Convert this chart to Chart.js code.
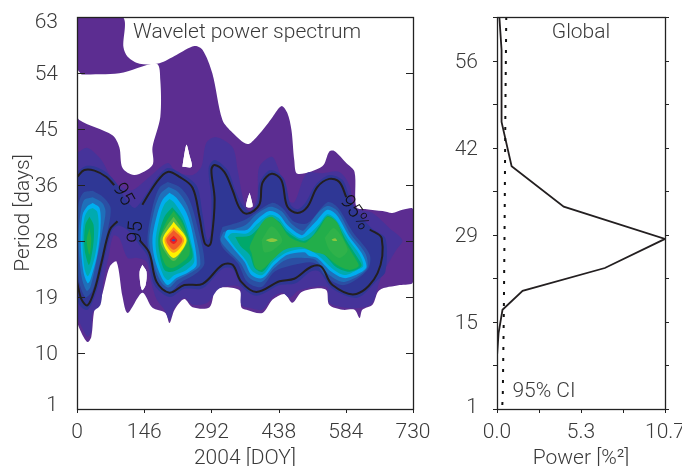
<!DOCTYPE html>
<html>
<head>
<meta charset="utf-8">
<title>Wavelet power spectrum</title>
<script src="https://cdn.jsdelivr.net/npm/chart.js@4"></script>
<style>
  body { margin: 0; background: #fff; }
  canvas { position: absolute; top: 0; }
  #wavelet { left: 0; }
  #global { left: 445px; }
</style>
</head>
<body>
<canvas id="wavelet" width="445" height="466"></canvas>
<canvas id="global" width="237" height="466"></canvas>
<script>
// all shapes are [day, period]
var dayTicks = [0, 146, 292, 438, 584, 730];
var periodTicks = [1, 9.86, 18.71, 27.57, 36.43, 45.29, 54.14, 63];
var globalPeriodTicks = [1, 7.89, 14.78, 21.67, 28.56, 35.44, 42.33, 49.22, 56.11, 63];
var globalPeriodLabels = ['1', '', '15', '', '29', '', '42', '', '56', ''];
var powerTicks = [0, 2.675, 5.35, 8.025, 10.7];
var powerLabels = ['0.0', '', '5.3', '', '10.7'];

var outerPurple = [[0,63],[99,63],[101,58.2],[110,56.7],[136,55.6],[179,55.7],[216,57],[255,58.4],[273,57.8],[294,54.1],[316,46.7],[338,44.7],[370,42.9],[390,44],[412,45.9],[425,47.2],[444,48.9],[457,47.8],[466,45.1],[472,40.4],[479,38.2],[533,39.4],[548,41.7],[559,41.8],[585,39.9],[603,38.5],[607,32.9],[629,32.6],[664,32.3],[685,32],[707,32.5],[727,32.8],[730,32.6],[730,21.1],[701,20.6],[657,19.8],[642,17.5],[620,16.7],[614,15.4],[603,16.7],[577,16.7],[548,17.5],[542,19.8],[522,20.1],[488,19.5],[468,17.8],[451,19.2],[425,18.3],[403,16.2],[368,16.7],[357,17.1],[353,19.8],[303,20],[288,17.1],[251,17.1],[233,18.4],[212,16.7],[201,14.6],[192,16.2],[164,17],[142,19.4],[110,16.2],[99,18.7],[86,24.3],[71,23.5],[53,18.7],[38,16.7],[31,12.4],[23,11.6],[10,13],[0,15.1]];
var holeBig = [[10,53.9],[92,54.1],[173,55.6],[181,53],[181,47.2],[164,42.4],[164,39.6],[125,38],[99,39.1],[92,42.4],[77,44.3],[5,46.7],[0,48.3],[0,54.6]];
var holeTop = [[229,39.3],[249,39.3],[244,41.2],[238,42.8],[233,41.2]];
var holeLow = [[142,23.8],[151,22.7],[149,20.6],[142,19.8],[138,20.6],[136,22.7]];
var holeMid = [[375,35.2],[379,34.1],[381,33],[368,33],[370,34.1]];

var indigoBand = [[0,41.5],[23,42.3],[53,40.4],[81,36.9],[118,35.6],[157,37.7],[197,39.9],[216,38.5],[251,38],[270,39.3],[281,43.1],[303,44],[338,42.4],[349,38.8],[359,34.9],[370,32.5],[381,32.5],[392,34.9],[396,39.3],[423,40.9],[436,39.3],[457,34.1],[472,33.7],[499,38.3],[533,38.3],[570,38.5],[592,36.4],[603,32.9],[642,32],[679,29.6],[707,27.7],[694,26.2],[672,23.5],[657,21.1],[642,17.8],[618,17],[577,17.1],[548,17.8],[542,20.3],[483,19.8],[462,18.6],[446,19.4],[425,18.7],[403,16.7],[375,17],[357,17.5],[353,20.3],[310,20.1],[283,17.8],[251,17.5],[233,18.6],[212,17],[201,15.1],[190,16.7],[173,18.3],[160,21.4],[151,24.3],[131,24.9],[110,24.9],[92,28],[79,28.4],[68,24.9],[57,21.1],[51,17.5],[34,16.2],[31,13.2],[23,12.4],[10,14],[0,16.2]];
var navyBand = [[0,38.5],[18,39.4],[40,39.3],[66,38.3],[86,36.7],[103,34.5],[125,32.8],[142,34.1],[173,37.5],[197,39.1],[225,38.3],[260,36.3],[273,31.7],[283,27.7],[290,28.5],[292,34.1],[286,39.1],[299,40.4],[327,38.8],[344,35.6],[359,33.3],[375,32.3],[392,33.6],[396,36.7],[420,38.8],[449,37.5],[464,33.3],[479,32.6],[496,33.6],[518,36.4],[548,38],[577,37.2],[592,34.5],[609,32.2],[640,29.6],[670,28],[670,22.7],[653,21.4],[609,18.6],[555,20],[527,22.7],[509,22.8],[475,20.9],[440,20.6],[390,18.9],[357,20.5],[338,23.2],[316,23.2],[273,20.1],[233,20],[201,18.7],[168,20.6],[153,25.2],[136,26.9],[110,29.3],[88,30],[75,29],[57,23.9],[42,19.5],[23,16.7],[5,17.5],[0,19.8]];

var blueA = [[34,35.5],[57,34.5],[73,32.8],[66,29],[47,23.3],[34,19.8],[18,18.7],[3,21.7],[0,28.5],[3,33.3],[14,35.2]];
var blueB = [[197,36.9],[223,36.1],[244,34.1],[262,29.8],[277,24.1],[260,22.5],[223,20.9],[201,19.5],[179,20.6],[162,24.1],[153,27.7],[164,32.9],[179,36]];
var blueC = [[316,29.8],[364,30.9],[423,33.6],[446,32.8],[472,30.6],[501,30.4],[544,33.7],[566,32.9],[599,29],[636,25.4],[631,23],[581,20.6],[544,21.7],[516,24.1],[472,23.8],[429,22.7],[401,20.3],[370,21.1],[349,24.1],[316,26.6],[310,28.2]];

var skyA = [[34,34.5],[55,33.6],[62,32.2],[55,29],[42,24.3],[29,20.3],[21,19.7],[10,21.9],[3,27.7],[8,32.2],[16,34.1]];
var skyB = [[199,36.1],[220,35.3],[240,33.1],[255,29.3],[268,23.9],[251,22.7],[218,21.4],[199,20.2],[181,21.3],[164,24.6],[157,27.9],[168,32.5],[181,35]];
var skyC = [[318,29],[366,30.1],[390,31.8],[420,33],[444,32.3],[466,30.3],[490,29.2],[501,29.9],[522,31.9],[544,33.1],[566,32.3],[594,28.7],[627,25.5],[629,23.1],[581,21.1],[548,22.2],[518,24.6],[494,24.9],[457,24.7],[429,23.3],[401,21.1],[375,21.7],[355,24.1],[327,26.2],[312,27.7]];

var cyanA = [[34,33.6],[49,32.8],[51,29.6],[44,25.4],[29,21.4],[23,20.9],[14,22.7],[8,27.4],[12,31.7],[23,33.1]];
var cyanB = [[201,35.2],[216,34.4],[238,32],[251,28.8],[260,23.8],[244,22.7],[216,21.7],[197,20.6],[183,21.9],[168,25],[164,28],[175,32],[186,34.1]];
var cyanC = [[320,28.2],[327,29.3],[368,29.3],[390,30.9],[418,32.3],[440,31.7],[457,30.1],[488,28.5],[501,29.3],[522,30.9],[544,32.5],[564,31.7],[592,28.2],[618,25.7],[629,23.5],[614,22.5],[581,21.7],[553,22.7],[522,24.9],[505,25.2],[494,25.8],[457,25.4],[429,23.8],[403,21.7],[379,22.2],[364,24.3],[342,26.2]];

var tealA = [[34,32.8],[44,32.2],[47,29.6],[40,25.5],[29,22.7],[23,22],[16,23.3],[12,27.4],[16,31.2],[25,32.5]];
var tealB = [[201,34.2],[212,33.6],[231,31.4],[244,28.5],[255,24.4],[238,23],[212,22.2],[197,21.4],[186,22.4],[173,25.4],[171,28],[181,31.7],[190,33.4]];
var tealC = [[327,28.2],[336,28.8],[370,28.8],[392,30.3],[418,31.7],[438,31.2],[455,29.6],[485,28],[505,28.7],[527,30.3],[544,31.8],[562,31],[588,28],[614,25.4],[622,23.6],[609,23],[581,22.2],[555,23.2],[522,25.4],[494,26.3],[457,25.8],[427,24.3],[403,22.2],[381,22.8],[366,24.6],[344,26.5]];

var seaA = [[27,31.4],[36,30.1],[36,27.4],[29,24.3],[25,23.8],[16,26.5],[18,30.1]];
var seaB = [[207,32.9],[229,30.9],[244,27.7],[251,25],[229,23.5],[207,22.7],[190,23],[179,25.7],[177,28.2],[190,31.4]];
var seaC = [[344,28.2],[375,28.4],[394,29.6],[418,31.2],[438,30.7],[457,29],[490,27.6],[509,28.2],[527,30],[544,31.5],[562,30.7],[585,27.7],[609,25],[618,23.6],[592,22.7],[562,23.5],[535,25.5],[492,26.8],[451,26.3],[425,24.7],[403,22.7],[386,23.3],[375,25.4],[355,26.8]];

var greenA = [[27,29.6],[31,27.7],[27,25.4],[21,27.7]];
var greenB = [[210,32.3],[229,30.3],[242,27.7],[244,25.4],[223,23.9],[205,23.3],[192,23.8],[181,26.2],[181,28.2],[194,30.6]];
var greenC = [[386,28.5],[407,30.9],[423,31.4],[440,30.4],[462,28.2],[494,27.3],[509,28.1],[527,29.6],[544,31.4],[564,30.6],[581,27.7],[603,25],[612,23.6],[592,23],[564,23.8],[538,25.4],[516,25.8],[488,26.6],[451,26.2],[425,24.6],[401,23],[388,23.3],[379,25.7],[375,26.6]];

var limeB = [[210,31.4],[227,29.6],[240,27.7],[227,25.8],[210,24.4],[192,25.8],[181,27.7],[192,29.6]];
var limeC1 = [[401,27.7],[423,29.9],[446,27.7],[427,26.2],[407,25.8]];
var limeC2 = [[538,28.1],[559,29.6],[588,26.2],[570,24.9],[548,26.2]];
var paleC1 = [[410,27.7],[423,28],[436,27.7],[423,27.4]];
var paleC2 = [[553,27.8],[561,28],[565,27.6],[556,27.6]];
var yellowB = [[210,30.6],[238,27.7],[210,24.9],[186,27.7]];
var orangeB = [[210,29.8],[233,27.7],[210,25.7],[190,27.7]];
var redB = [[210,29.3],[229,27.7],[210,26.2],[194,27.7]];
var crimsonB = [[210,28.4],[218,27.7],[210,27.1],[201,27.7]];
var coreB = [[205,27.7],[210,27.9],[214,27.7],[210,27.5]];

var contourTopLeft = [[0,37.7],[16,38.8],[38,38.7],[64,37.7],[81,36.4]];
var contourLowLeft = [[88,30.7],[71,29.3],[53,24.1],[38,19.8],[23,17.4],[10,18.3],[0,21.1]];
var contourTop = [[142,33.3],[173,36.9],[197,38.5],[223,37.7],[251,36],[266,31.4],[277,27.3],[286,26.8],[292,27.7],[299,34.1],[292,38.8],[299,39.6],[320,38.5],[338,35.6],[353,32.8],[370,31.9],[396,33.3],[403,36.8],[423,38.2],[444,37.2],[457,33],[479,32],[501,33],[522,36.1],[548,37.4],[570,36.9],[585,34.5]];
var contourLow = [[136,27.7],[157,25.7],[173,21.1],[201,19.4],[233,20.6],[273,20.8],[316,23.8],[338,23.8],[357,21.1],[390,19.5],[440,21.2],[472,21.6],[509,23.5],[531,23.5],[555,20.6],[607,19.2],[653,22.5],[662,28],[636,29.4]];

var contourLabels = ['95', '95', '95%'];
var contourLabelDays = [99, 129, 603];
var contourLabelPeriods = [34.9, 29, 32];
var contourLabelAngles = [60, -85, 55];

// global panel, [power, period]
var globalPower = [[0.15,63],[0.29,57.8],[0.29,46.4],[0.93,39.4],[4.25,33],[10.7,27.9],[6.87,23.3],[1.63,19.7],[0.35,16.7],[0.1,13],[0,9.3],[0,1]];
var globalCI = [[0.59,63],[0.54,49.9],[0.48,28.8],[0.43,15.2],[0.37,3.5],[0.33,1.1]];

var bands = [
  ['#5c2d91', [outerPurple]],
  ['#ffffff', [holeBig, holeTop, holeLow, holeMid]],
  ['#46339a', [indigoBand]],
  ['#ffffff', [holeTop, holeLow, holeMid]],
  ['#2f3795', [navyBand]],
  ['#2b4fa3', [blueA, blueB, blueC]],
  ['#1f70ba', [skyA, skyB, skyC]],
  ['#00aeef', [cyanA, cyanB, cyanC]],
  ['#00aab0', [tealA, tealB, tealC]],
  ['#00a86b', [seaA, seaB, seaC]],
  ['#22ae4a', [greenA, greenB, greenC]],
  ['#2fb24a', [limeC1, limeC2]],
  ['#5cb947', [limeB]],
  ['#8cc63f', [paleC1, paleC2]],
  ['#fff200', [yellowB]],
  ['#f9a11b', [orangeB]],
  ['#f15a29', [redB]],
  ['#ed1c24', [crimsonB]],
  ['#3f51a3', [coreB]]
];

var fontFamily = 'Roboto, "Liberation Sans", sans-serif';
var textColor = '#3a3a3a';
var lineColor = '#231f20';

function toPoints(list) {
  return list.map(function(p) { return {x: p[0], y: p[1]}; });
}

function make_wavelet_datasets() {
  var sets = [];
  bands.forEach(function(band) {
    band[1].forEach(function(shape) {
      sets.push({
        data: toPoints(shape.concat([shape[0]])),
        showLine: true,
        fill: 'shape',
        backgroundColor: band[0],
        borderWidth: 0,
        pointRadius: 0,
        tension: 0.3
      });
    });
  });
  [contourTopLeft, contourLowLeft, contourTop, contourLow].forEach(function(line) {
    sets.push({
      data: toPoints(line),
      showLine: true,
      fill: false,
      borderColor: lineColor,
      borderWidth: 2,
      pointRadius: 0,
      tension: 0.35
    });
  });
  // later sets have to paint over earlier ones
  sets.forEach(function(s, i) { s.order = sets.length - i; });
  return sets;
}

function setTicks(values) {
  return function(scale) {
    scale.ticks = values.map(function(v) { return {value: v}; });
  };
}

// the tick labels may hang over the plot edge, so the scales must not ask for room
function noMargins(scale) {
  scale.paddingTop = scale.paddingBottom = scale.paddingLeft = scale.paddingRight = 0;
  scale._margins = {left: 0, right: 0, top: 0, bottom: 0};
}
function fixedWidth(w) { return function(scale) { scale.width = w; noMargins(scale); }; }
function fixedHeight(h) { return function(scale) { scale.height = h; noMargins(scale); }; }

// frame, short ticks and the text inside the plot
function framePlugin(tickConf) {
  return {
    id: 'frame',
    beforeDraw: function(chart) {
      var items = chart.scales.y.getLabelItems();
      if (items.nudged) return;
      items.nudged = true;
      items.forEach(function(item) {
        var dy = tickConf.nudge[item.label];
        if (dy === undefined) dy = 2;
        item.options.translation = [item.options.translation[0], item.options.translation[1] + dy];
      });
    },
    afterDatasetsDraw: function(chart) {
      var ctx = chart.ctx, a = chart.chartArea, sx = chart.scales.x, sy = chart.scales.y;
      ctx.save();
      ctx.strokeStyle = '#222';
      ctx.lineWidth = 1.3;
      ctx.strokeRect(a.left + 0.5, a.top + 0.5, a.right - a.left, a.bottom - a.top);
      ctx.lineWidth = 1;
      ctx.beginPath();
      sx.ticks.forEach(function(t) {
        var x = Math.round(sx.getPixelForValue(t.value)) + 0.5;
        ctx.moveTo(x, a.bottom);
        ctx.lineTo(x, a.bottom + 4);
      });
      sy.ticks.forEach(function(t) {
        var y = Math.round(sy.getPixelForValue(t.value)) + 0.5;
        ctx.moveTo(a.left + tickConf.left[0], y);
        ctx.lineTo(a.left + tickConf.left[1], y);
        ctx.moveTo(a.right + tickConf.right[0], y);
        ctx.lineTo(a.right + tickConf.right[1], y);
      });
      ctx.stroke();
      ctx.restore();
      tickConf.draw(chart);
    }
  };
}

function plotText(ctx, text, x, y, size, angle, color) {
  ctx.save();
  ctx.font = '300 ' + size + 'px ' + fontFamily;
  ctx.fillStyle = color || textColor;
  ctx.textAlign = 'center';
  ctx.textBaseline = 'middle';
  ctx.translate(x, y);
  ctx.rotate((angle || 0) * Math.PI / 180);
  ctx.fillText(text, 0, 0);
  ctx.restore();
}

function axisFont() {
  return {family: fontFamily, size: 21, weight: 300};
}

new Chart(document.getElementById('wavelet'), {
  type: 'scatter',
  data: {datasets: make_wavelet_datasets()},
  plugins: [framePlugin({
    nudge: {'63': 6, '1': -3},
    left: [0, 8],
    right: [-7, 0],
    draw: function(chart) {
      var sx = chart.scales.x, sy = chart.scales.y;
      contourLabels.forEach(function(label, i) {
        plotText(chart.ctx, label, sx.getPixelForValue(contourLabelDays[i]), sy.getPixelForValue(contourLabelPeriods[i]), 20, contourLabelAngles[i], '#111');
      });
      plotText(chart.ctx, 'Wavelet power spectrum', 247, 33, 21);
    }
  })],
  options: {
    responsive: false,
    animation: false,
    layout: {autoPadding: false, padding: {top: 17, right: 32, bottom: 0, left: 0}},
    plugins: {legend: {display: false}, tooltip: {enabled: false}},
    scales: {
      x: {
        type: 'linear', min: 0, max: 730,
        afterBuildTicks: setTicks(dayTicks),
        afterFit: fixedHeight(57),
        grid: {display: false},
        border: {display: false},
        ticks: {autoSkip: false, maxRotation: 0, color: textColor, font: axisFont(), padding: 3},
        title: {display: true, text: '2004 [DOY]', color: textColor, font: axisFont(), padding: {top: 0, bottom: -5}}
      },
      y: {
        type: 'linear', min: 1, max: 63,
        afterBuildTicks: setTicks(periodTicks),
        afterFit: fixedWidth(77),
        grid: {display: false},
        border: {display: false},
        ticks: {
          autoSkip: false, color: textColor, font: axisFont(), padding: 11,
          callback: function(v) { return String(Math.round(v)); }
        },
        title: {display: true, text: 'Period [days]', color: textColor, font: axisFont(), padding: {top: 11, bottom: 0}}
      }
    }
  }
});

new Chart(document.getElementById('global'), {
  type: 'scatter',
  data: {
    datasets: [
      {data: toPoints(globalCI), showLine: true, borderColor: '#111', borderWidth: 2, borderDash: [3, 8], pointRadius: 0},
      {data: toPoints(globalPower), showLine: true, borderColor: lineColor, borderWidth: 1.8, pointRadius: 0}
    ]
  },
  plugins: [framePlugin({
    nudge: {'1': -1},
    left: [-4, 0],
    right: [0, 4],
    draw: function(chart) {
      plotText(chart.ctx, 'Global', 136, 33, 21);
      plotText(chart.ctx, '95% CI', 99, 392, 21);
    }
  })],
  options: {
    responsive: false,
    animation: false,
    layout: {autoPadding: false, padding: {top: 17, right: 17, bottom: 0, left: 0}},
    plugins: {legend: {display: false}, tooltip: {enabled: false}},
    scales: {
      x: {
        type: 'linear', min: 0, max: 10.7,
        afterBuildTicks: setTicks(powerTicks),
        afterFit: fixedHeight(57),
        grid: {display: false},
        border: {display: false},
        ticks: {
          autoSkip: false, maxRotation: 0, color: textColor, font: axisFont(), padding: 3,
          callback: function(v, i) { return powerLabels[i]; }
        },
        title: {display: true, text: 'Power [%²]', color: textColor, font: axisFont(), padding: {top: 0, bottom: -5}}
      },
      y: {
        type: 'linear', min: 1, max: 63,
        afterBuildTicks: setTicks(globalPeriodTicks),
        afterFit: fixedWidth(52),
        grid: {display: false},
        border: {display: false},
        ticks: {
          autoSkip: false, color: textColor, font: axisFont(), padding: 11,
          callback: function(v, i) { return globalPeriodLabels[i]; }
        }
      }
    }
  }
});
</script>
</body>
</html>
